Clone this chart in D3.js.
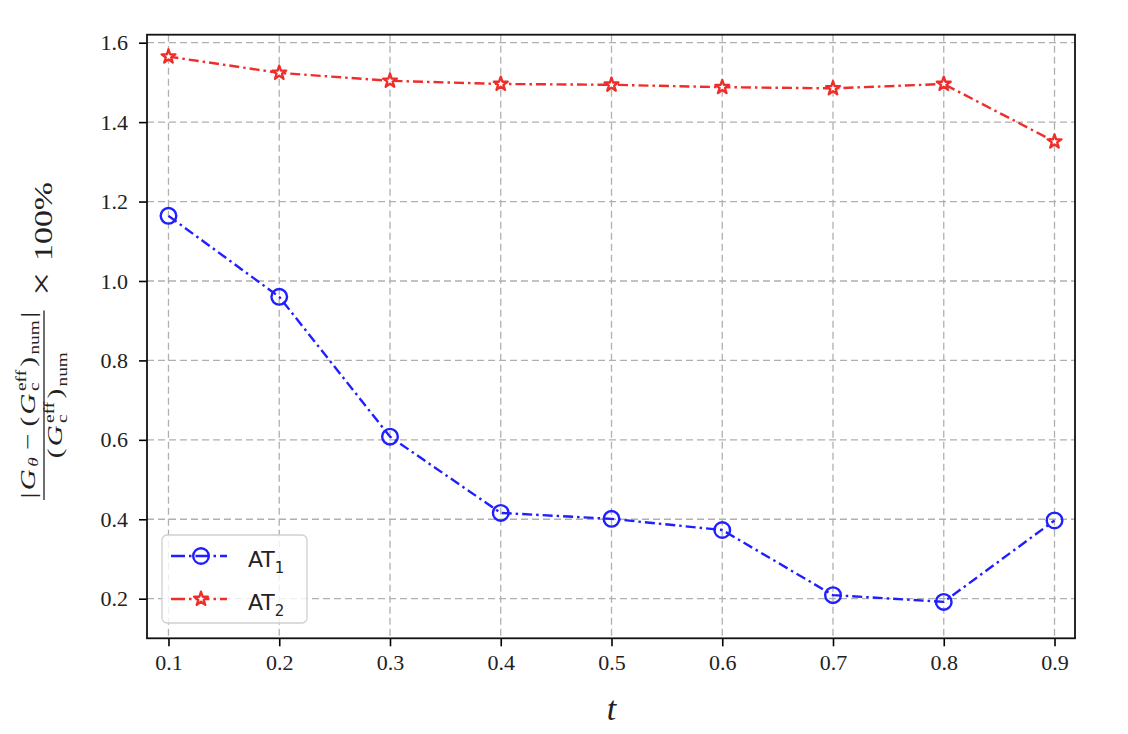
<!DOCTYPE html>
<html><head><meta charset="utf-8">
<script src="https://cdn.jsdelivr.net/npm/d3@7"></script>
<style>body{margin:0;background:#fff}</style>
</head><body>
<svg id="c" width="1128" height="734"></svg>
<script>
// ---- data ----
const tValues = [0.1, 0.2, 0.3, 0.4, 0.5, 0.6, 0.7, 0.8, 0.9];
const at1Values = [1.164, 0.960, 0.608, 0.416, 0.401, 0.373, 0.209, 0.192, 0.397];
const at2Values = [1.565, 1.524, 1.504, 1.496, 1.494, 1.488, 1.485, 1.496, 1.351];
const xTickValues = [0.1, 0.2, 0.3, 0.4, 0.5, 0.6, 0.7, 0.8, 0.9];
const yTickValues = [0.2, 0.4, 0.6, 0.8, 1.0, 1.2, 1.4, 1.6];
const seriesNames = ["AT", "AT"];
const seriesSubs = ["1", "2"];

const svg = d3.select("#c");
const L = 147, R = 1075, T = 34.7, B = 638.3;
const x = d3.scaleLinear().domain([0.0806, 0.9185]).range([L, R]);
const y = d3.scaleLinear().domain([0.1003, 1.6201]).range([B, T]);

const serif = '"Liberation Serif", "Times New Roman", serif';
const sans = '"DejaVu Sans", sans-serif';
const blue = "#1f1fff", red = "#ee2e2a";

// grid
const grid = svg.append("g");
grid.selectAll("line.v").data(xTickValues).join("line")
  .attr("x1", d => x(d)).attr("x2", d => x(d)).attr("y1", T).attr("y2", B)
  .attr("stroke", "#b0b0b0").attr("stroke-width", 1.3).attr("stroke-dasharray", "7,4");
grid.selectAll("line.h").data(yTickValues).join("line")
  .attr("y1", d => y(d)).attr("y2", d => y(d)).attr("x1", L).attr("x2", R)
  .attr("stroke", "#b0b0b0").attr("stroke-width", 1.3).attr("stroke-dasharray", "7,4");

// axes
const xAxis = svg.append("g").attr("transform", `translate(0,${B})`)
  .call(d3.axisBottom(x).tickValues(xTickValues).tickFormat(d3.format(".1f")).tickSize(8).tickPadding(8));
const yAxis = svg.append("g").attr("transform", `translate(${L},0)`)
  .call(d3.axisLeft(y).tickValues(yTickValues).tickFormat(d3.format(".1f")).tickSize(8).tickPadding(11));
[xAxis, yAxis].forEach(a => {
  a.attr("font-family", null).attr("font-size", null);
  a.select(".domain").remove();
  a.selectAll(".tick line").attr("stroke", "#000").attr("stroke-width", 1.6);
  a.selectAll(".tick text").style("font-family", serif).style("font-size", "22px").attr("fill", "#222");
});

// frame
svg.append("rect").attr("x", L).attr("y", T).attr("width", R - L).attr("height", B - T)
  .attr("fill", "none").attr("stroke", "#111").attr("stroke-width", 1.8);

// series
const dash = "10,4,2.5,4";
const line = d3.line().x((d, i) => x(tValues[i])).y(d => y(d));
svg.append("path").datum(at1Values).attr("d", line).attr("fill", "none")
  .attr("stroke", blue).attr("stroke-width", 2.4).attr("stroke-dasharray", dash);
svg.append("path").datum(at2Values).attr("d", line).attr("fill", "none")
  .attr("stroke", red).attr("stroke-width", 2.4).attr("stroke-dasharray", dash);

svg.append("g").selectAll("circle").data(at1Values).join("circle")
  .attr("cx", (d, i) => x(tValues[i])).attr("cy", d => y(d)).attr("r", 7.8)
  .attr("fill", "none").attr("stroke", blue).attr("stroke-width", 2.4);
const star = d3.symbol().type(d3.symbolStar).size(60);
svg.append("g").selectAll("path").data(at2Values).join("path")
  .attr("d", star).attr("transform", (d, i) => `translate(${x(tValues[i])},${y(d)})`)
  .attr("fill", "#fff").attr("stroke", red).attr("stroke-width", 2.3).attr("stroke-linejoin", "round");

// legend
const lg = svg.append("g");
lg.append("rect").attr("x", 162).attr("y", 535).attr("width", 145).attr("height", 88).attr("rx", 5)
  .attr("fill", "#fff").attr("fill-opacity", 0.8).attr("stroke", "#d0d0d0").attr("stroke-width", 1.3);
const rows = [{c: blue, sym: "circle"}, {c: red, sym: "star"}];
rows.forEach((r, i) => {
  const cy = 556 + i * 43;
  lg.append("line").attr("x1", 171).attr("x2", 227).attr("y1", cy).attr("y2", cy)
    .attr("stroke", r.c).attr("stroke-width", 2.4).attr("stroke-dasharray", "14,4,2.5,4");
  if (r.sym === "circle") lg.append("circle").attr("cx", 201).attr("cy", cy).attr("r", 7.8)
    .attr("fill", "none").attr("stroke", r.c).attr("stroke-width", 2.4);
  else lg.append("path").attr("d", star).attr("transform", `translate(201,${cy})`)
    .attr("fill", "#fff").attr("stroke", r.c).attr("stroke-width", 2.3).attr("stroke-linejoin", "round");
  const t = lg.append("text").attr("x", 248).attr("y", cy + 11).style("font-family", sans)
    .style("font-size", "22px").attr("fill", "#222");
  t.append("tspan").text(seriesNames[i]);
  t.append("tspan").style("font-size", "15px").attr("dy", 6).text(seriesSubs[i]);
});

// x label
svg.append("text").attr("x", x(0.5)).attr("y", 720).attr("text-anchor", "middle")
  .style("font-family", serif).style("font-style", "italic").style("font-size", "34px").attr("fill", "#222").text("t");

// y label (math-like layout)
const ylOuter = svg.append("g");
const yl = ylOuter.append("g");
function put(parent, xx, yy, txt, size, italic) {
  const t = parent.append("text").attr("x", xx).attr("y", yy).style("font-size", size + "px")
    .style("font-family", serif).style("font-style", italic ? "italic" : "normal").attr("fill", "#222").text(txt);
  return t.node().getComputedTextLength();
}
function seq(parent, items) {
  let cx = 0;
  items.forEach(it => {
    if (it.gap) { cx += it.gap; return; }
    if (it.stack) {
      const w1 = put(parent, cx, -7, it.stack[0], 12, false);
      const w2 = put(parent, cx, 4, it.stack[1], 12, false);
      cx += Math.max(w1, w2) + 2;
      return;
    }
    cx += put(parent, cx, it.dy || 0, it.t, it.s || 18, it.i) + 1.5;
  });
  return cx - 1.5;
}
const num = yl.append("g");
const numW = seq(num, [
  {t: "|"}, {t: "G", i: true}, {t: "θ", s: 12, i: true, dy: 3}, {gap: 3}, {t: "−"}, {gap: 3},
  {t: "("}, {t: "G", i: true}, {stack: ["eff", "c"]}, {t: ")"}, {t: "num", s: 12, dy: 4}, {t: "|"}
]);
const den = yl.append("g");
const denW = seq(den, [
  {t: "("}, {t: "G", i: true}, {stack: ["eff", "c"]}, {t: ")"}, {t: "num", s: 12, dy: 4}
]);
const fw = Math.max(numW, denW) + 2;
num.attr("transform", `translate(${(fw - numW) / 2},0)`);
den.attr("transform", `translate(${(fw - denW) / 2},23)`);
yl.append("line").attr("x1", 0).attr("x2", fw).attr("y1", 8).attr("y2", 8).attr("stroke", "#222").attr("stroke-width", 1.1);
const tail = yl.append("g").attr("transform", `translate(${fw + 9},15)`);
seq(tail, [{t: "×", s: 27}, {gap: 5}, {t: "100%", s: 21}]);
const b = yl.node().getBBox();
const s = 318 / b.width;
const sy = Math.min(s, 57 / b.height);
const x0 = 44 - (8 - b.y) * sy;
ylOuter.attr("transform", `translate(${x0},500) rotate(-90) scale(${s},${sy}) translate(${-b.x},${-b.y})`);
</script>
</body></html>
